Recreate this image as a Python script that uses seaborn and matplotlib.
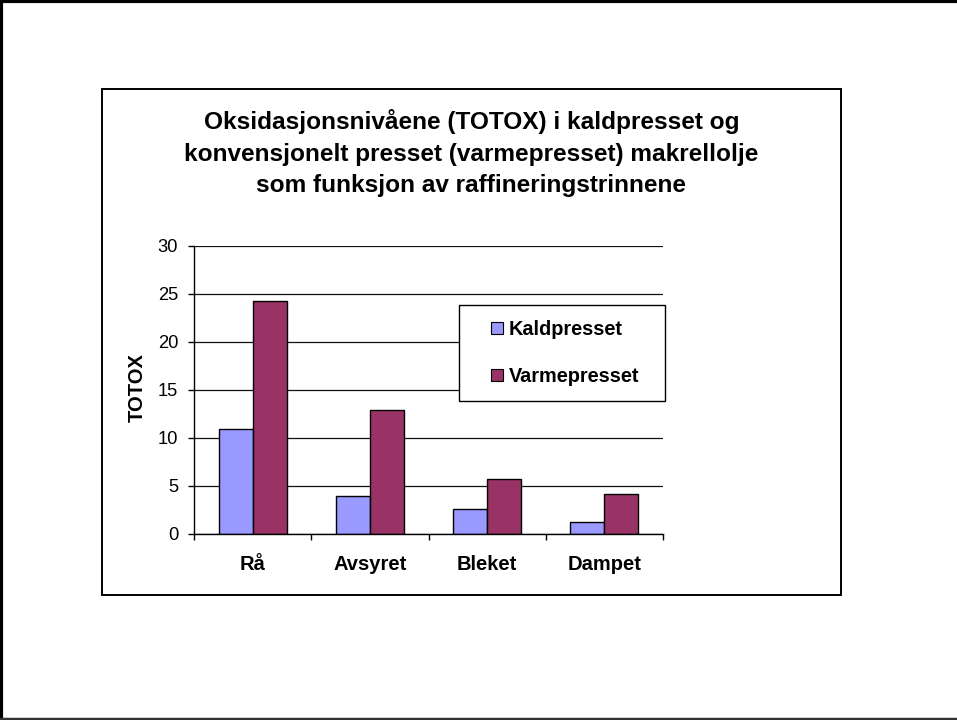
import numpy as np
import pandas as pd
import matplotlib
matplotlib.use('Agg')
import matplotlib.pyplot as plt
from matplotlib.patches import Rectangle
from matplotlib.lines import Line2D
import seaborn as sns

# data
stages = ['Rå', 'Avsyret', 'Bleket', 'Dampet']
kaldpresset = [10.9, 4.0, 2.6, 1.3]
varmepresset = [24.3, 12.9, 5.7, 4.2]
series_names = ['Kaldpresset', 'Varmepresset']
y_ticks = [0, 5, 10, 15, 20, 25, 30]

title_text = ('Oksidasjonsnivåene (TOTOX) i kaldpresset og\n'
              'konvensjonelt presset (varmepresset) makrellolje\n'
              'som funksjon av raffineringstrinnene')

df = pd.DataFrame({
    'stage': stages * 2,
    'serie': [series_names[0]] * len(stages) + [series_names[1]] * len(stages),
    'totox': kaldpresset + varmepresset,
})

sns.set_style('white')
plt.rcParams['font.family'] = ['Liberation Sans', 'DejaVu Sans']
for key in ['text.color', 'axes.labelcolor', 'xtick.color', 'ytick.color']:
    plt.rcParams[key] = 'black'

W, H = 957, 720
fig = plt.figure(figsize=(W / 100, H / 100), dpi=100)
ax = fig.add_axes([194 / W, 1 - 534 / H, 469 / W, 288 / H])

palette = {'Kaldpresset': '#9999FF', 'Varmepresset': '#993366'}
sns.barplot(data=df, x='stage', y='totox', hue='serie', palette=palette,
            width=0.58, gap=0, edgecolor='black', linewidth=1.0,
            saturation=1, ax=ax, legend=True)

ax.set_xlim(-0.5, len(stages) - 0.5)
ax.set_ylim(0, 30)
ax.set_yticks(y_ticks)
ax.yaxis.grid(True, color='#111111', linewidth=0.9)
ax.set_axisbelow(True)
for s in ['top', 'right']:
    ax.spines[s].set_visible(False)
for s in ['left', 'bottom']:
    ax.spines[s].set_color('black')
    ax.spines[s].set_linewidth(1.0)

ax.tick_params(axis='y', direction='out', length=4.5, width=1, color='black',
               labelsize=13.2, pad=7, left=True)
ax.tick_params(axis='x', which='major', length=0, pad=15, labelsize=14.5)
ax.set_xticks(np.arange(-0.5, len(stages)), minor=True)
ax.tick_params(axis='x', which='minor', direction='out', length=4, width=1,
               color='black', bottom=True)
for lbl in ax.get_xticklabels():
    lbl.set_fontweight('bold')

ax.set_xlabel('')
ax.set_ylabel('TOTOX', fontsize=14.5, fontweight='bold')
ax.yaxis.set_label_coords((147 - 194) / 469, 0.507)

# legend: entries without frame, box drawn separately
handles, labels = ax.get_legend_handles_labels()
ax.get_legend().remove()
leg = fig.legend(handles, labels, loc='center',
                 bbox_to_anchor=(565 / W, 1 - 353 / H),
                 frameon=False,
                 prop={'weight': 'bold', 'size': 14.3},
                 handlelength=0.6, handleheight=0.6, handletextpad=0.3,
                 labelspacing=1.4, borderpad=0, borderaxespad=0)
for h in leg.legend_handles:
    h.set_edgecolor('black')
    h.set_linewidth(0.8)
fig.patches.append(Rectangle((459 / W, 1 - 401 / H), (665 - 459) / W, (401 - 305) / H,
                             transform=fig.transFigure, fill=True, facecolor='white',
                             edgecolor='black', linewidth=1.0, zorder=2))
leg.set_zorder(5)

fig.text(471.5 / W, 1 - 153 / H, title_text, ha='center', va='center',
         fontsize=17.6, fontweight='bold', linespacing=1.45)

# chart area frame and outer page border
fig.patches.append(Rectangle((102 / W, 1 - 595 / H), (841 - 102) / W, (595 - 89) / H,
                             transform=fig.transFigure, fill=False,
                             edgecolor='black', linewidth=1.4))
fig.lines.append(Line2D([0.001, 0.001], [0, 1], transform=fig.transFigure,
                        color='black', linewidth=3))
fig.lines.append(Line2D([0, 1], [0.998, 0.998], transform=fig.transFigure,
                        color='black', linewidth=3))
fig.lines.append(Line2D([0, 1], [0.002, 0.002], transform=fig.transFigure,
                        color='#333333', linewidth=2.5))

fig.savefig('out.png', dpi=100, facecolor='white')
